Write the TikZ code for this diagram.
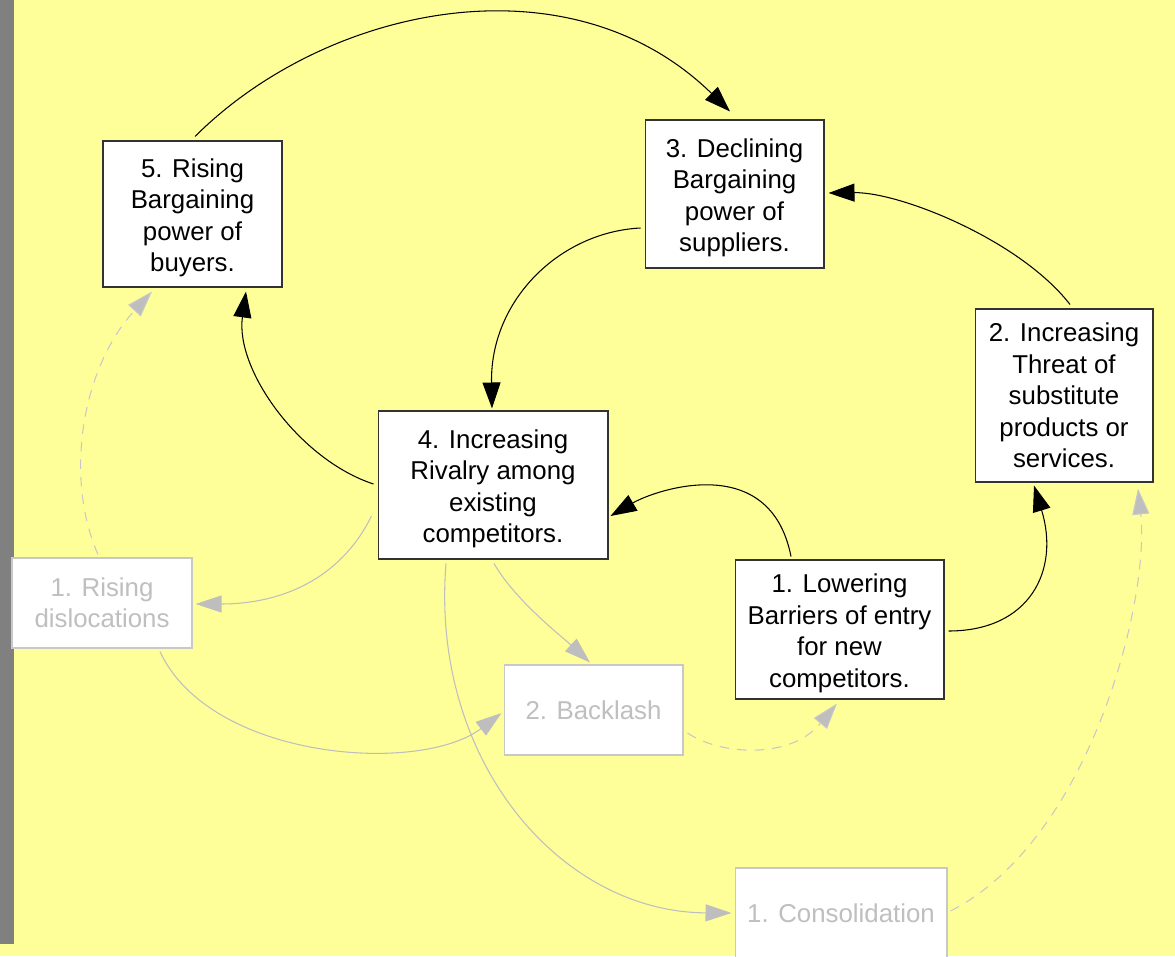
\documentclass[tikz,border=0pt]{standalone}
\usepackage{fontspec}
\setmainfont{Liberation Sans}
\usetikzlibrary{arrows.meta,calc}
\definecolor{bgyellow}{HTML}{FFFF99}
\definecolor{stripgray}{HTML}{808080}
\definecolor{ghostline}{HTML}{C8C8C8}
\definecolor{ghosttext}{HTML}{BFBFBF}
\definecolor{ghostarrow}{HTML}{BEBEBE}
\newcommand{\lowerstrut}{\rule{0pt}{14.8pt}}
\begin{document}
\begin{tikzpicture}[x=0.02cm,y=-0.02cm,
  boxfont/.style={font=\fontsize{14.7}{17.9}\selectfont},
  mainbox/.style={boxfont,draw=black!80,fill=white,line width=0.6pt,align=center,inner sep=0pt},
  ghostbox/.style={boxfont,draw=ghostline,fill=white,line width=0.6pt,align=center,inner sep=0pt,text=ghosttext},
  blackarrow/.style={draw=black,line width=0.6pt,-{Triangle[length=0.52cm,width=0.36cm]}},
  ghostsolid/.style={draw=ghostarrow,line width=0.6pt,-{Triangle[length=0.52cm,width=0.34cm,fill=ghostarrow]}},
  ghostdashed/.style={ghostsolid,draw=ghostline,dash pattern=on 5.5pt off 4.5pt}
]
\useasboundingbox (0,0) rectangle (1175,956);
\clip (0,0) rectangle (1175,956);
\fill[bgyellow] (0,0) rectangle (1175,956);
\fill[stripgray] (0,0) rectangle (14,944);

% main boxes
\node[mainbox,minimum width=3.58cm,minimum height=2.92cm] (b5) at (192.5,214) {\lowerstrut 5. Rising\\Bargaining\\power of\\buyers.};
\node[mainbox,minimum width=3.58cm,minimum height=2.96cm] (b3) at (734.5,194) {\lowerstrut 3. Declining\\Bargaining\\power of\\suppliers.};
\node[mainbox,minimum width=3.56cm,minimum height=3.46cm] (b2) at (1064,395.5) {2. Increasing\\Threat of\\substitute\\products or\\services.};
\node[mainbox,minimum width=4.60cm,minimum height=2.96cm] (b4) at (493,485) {\lowerstrut 4. Increasing\\Rivalry among\\existing\\competitors.};
\node[mainbox,minimum width=4.18cm,minimum height=2.78cm] (b1) at (839.5,629.5) {\lowerstrut 1. Lowering\\Barriers of entry\\for new\\competitors.};

% ghost boxes
\node[ghostbox,minimum width=3.60cm,minimum height=1.80cm] (dis) at (102,603) {1. Rising\\dislocations};
\node[ghostbox,minimum width=3.58cm,minimum height=1.80cm] (back) at (593.5,710) {2. Backlash};
\node[ghostbox,minimum width=4.24cm,minimum height=1.80cm] (cons) at (841,913) {1. Consolidation};

% black connectors
\draw[blackarrow] ($(b5.north)+(2.5,-4)$) .. controls (327,5) and (570,-45) .. ($(b3.north)+(-4.5,-8)$);
\draw[blackarrow] ($(b2.north)+(6,-4)$) .. controls (1020,240) and (900,192) .. ($(b3.east)+(4,-1)$);
\draw[blackarrow] ($(b3.west)+(-4,34)$) .. controls (560,232) and (490,300) .. ($(b4.north)+(-1,-2)$);
\draw[blackarrow] ($(b4.west)+(-4,-1)$) .. controls (300,460) and (235,370) .. ($(b5.south)+(53.5,4)$);
\draw[blackarrow] ($(b1.north)+(-48.5,-3)$) .. controls (770,450) and (655,490) .. ($(b4.east)+(2,31)$);
\draw[blackarrow] ($(b1.east)+(4,1.5)$) .. controls (1030,631) and (1060,570) .. ($(b2.south)+(-30,3)$);

% ghost connectors
\draw[ghostdashed] ($(dis.north)+(-4,-3)$) .. controls (65,480) and (80,370) .. ($(b5.south)+(-40.5,4)$);
\draw[ghostsolid] ($(b4.west)+(-6,31)$) .. controls (340,580) and (280,604) .. ($(dis.east)+(3,1)$);
\draw[ghostsolid] ($(dis.south)+(58,3)$) .. controls (210,760) and (420,775) .. ($(back.west)+(-2,3)$);
\draw[ghostsolid] ($(b4.south)+(1,4)$) .. controls (515,600) and (560,635) .. ($(back.north)+(-3.5,-2)$);
\draw[ghostdashed] ($(back.east)+(4,23)$) .. controls (720,755) and (790,760) .. ($(b1.south)+(-2.5,4)$);
\draw[ghostsolid] ($(b4.south)+(-47,4)$) .. controls (430,760) and (560,912) .. ($(cons.west)+(-3,0)$);
\draw[ghostdashed] ($(cons.east)+(3,-2)$) .. controls (1090,840) and (1150,600) .. ($(b2.south)+(74,6)$);
\end{tikzpicture}
\end{document}
